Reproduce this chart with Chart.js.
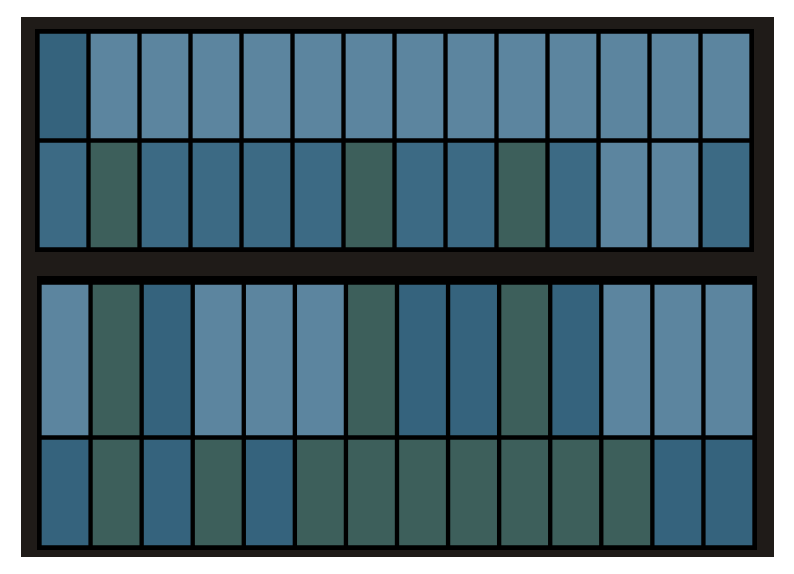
<!DOCTYPE html>
<html>
<head>
<meta charset="utf-8">
<script src="https://cdn.jsdelivr.net/npm/chart.js@4.4.0/dist/chart.umd.min.js"></script>
<style>
  html, body { margin: 0; padding: 0; background: #ffffff; width: 794px; height: 574px; overflow: hidden; }
  .frame { position: absolute; left: 21px; top: 17px; width: 753px; height: 540px; background: #1f1b18; }
  .panel { position: absolute; background: #000000; }
  canvas { position: absolute; }
</style>
</head>
<body>
<div class="frame"></div>
<div class="panel" style="left:35px; top:29px; width:719px; height:223px;"></div>
<div class="panel" style="left:37px; top:276px; width:720px; height:274px;"></div>
<canvas id="r1" width="714" height="109" style="left:37px; top:31px;"></canvas>
<canvas id="r2" width="714" height="109" style="left:37px; top:140px;"></canvas>
<canvas id="r3" width="715" height="155" style="left:39px; top:282px;"></canvas>
<canvas id="r4" width="715" height="110" style="left:39px; top:437px;"></canvas>
<script>
// categories (columns of the grid)
const columns = ['1','2','3','4','5','6','7','8','9','10','11','12','13','14'];
// class of each cell: 0 = light blue, 1 = mid blue, 2 = dark blue, 3 = dark green
const topRow1    = [2,0,0,0,0,0,0,0,0,0,0,0,0,0];
const topRow2    = [1,3,1,1,1,1,3,1,1,3,1,0,0,1];
const bottomRow1 = [0,3,2,0,0,0,3,2,2,3,2,0,0,0];
const bottomRow2 = [2,3,2,3,2,3,3,3,3,3,3,3,2,2];
const classColors = ['#5c859f', '#3c6a84', '#35637d', '#3d5f5b'];

function rowChart(id, classes) {
  new Chart(document.getElementById(id), {
    type: 'bar',
    data: {
      labels: columns,
      datasets: [{
        data: classes.map(() => 1),
        backgroundColor: classes.map(c => classColors[c]),
        borderColor: '#000000',
        borderWidth: { left: 3, right: 2, top: 3, bottom: 2 },
        borderSkipped: false,
        categoryPercentage: 1,
        barPercentage: 1
      }]
    },
    options: {
      responsive: false,
      animation: false,
      layout: { padding: 0 },
      plugins: { legend: { display: false }, tooltip: { enabled: false }, title: { display: false } },
      scales: {
        x: { display: false, grid: { display: false } },
        y: { display: false, min: 0, max: 1, grid: { display: false } }
      }
    }
  });
}
rowChart('r1', topRow1);
rowChart('r2', topRow2);
rowChart('r3', bottomRow1);
rowChart('r4', bottomRow2);
</script>
</body>
</html>
